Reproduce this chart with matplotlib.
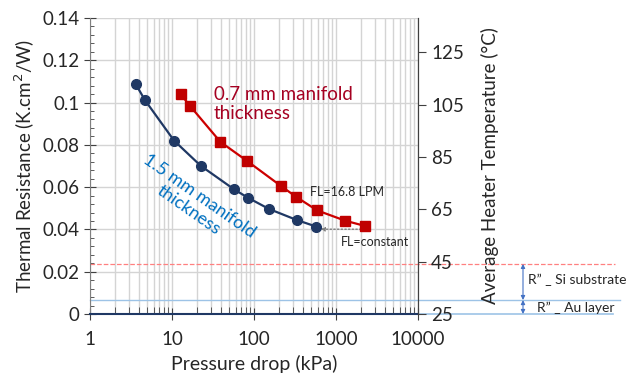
import matplotlib
matplotlib.use("Agg")
import matplotlib.pyplot as plt
from matplotlib.ticker import LogLocator, MultipleLocator, FixedLocator, NullFormatter, FuncFormatter

plt.rcParams['font.family'] = ['Lato', 'DejaVu Sans']

# Data
p_15 = [3.6, 4.67, 10.6, 22.4, 56.9, 84.3, 152, 330, 578]
r_15 = [0.1088, 0.1012, 0.0820, 0.0701, 0.0590, 0.0550, 0.0497, 0.0445, 0.0413]
p_07 = [12.8, 16.6, 38.9, 82.9, 214, 324, 589, 1301, 2279]
r_07 = [0.1039, 0.0984, 0.0814, 0.0723, 0.0605, 0.0555, 0.0490, 0.0441, 0.0416]
r_si = 0.0237
r_au = 0.0066
fl_line_x = [646, 2478]
fl_line_y = 0.0401
temp_ticks = [25, 45, 65, 85, 105, 125]
temp_lim = (25, 138.1)

navy = '#1f3864'
red = '#cc0000'
darkred = '#a50021'
blue_txt = '#0070c0'
lineblue = '#9dc3e6'
arrowblue = '#4472c4'
grid_c = '#d4d4d4'
txt = '#262626'

fig = plt.figure(figsize=(6.3, 3.8), dpi=100)
ax = fig.add_axes([90/630, 1-314/380, 328/630, 296/380])

ax.set_xscale('log')
ax.set_xlim(1, 10000)
ax.set_ylim(0, 0.14)

ax.xaxis.set_major_locator(LogLocator(base=10, numticks=10))
ax.xaxis.set_minor_locator(LogLocator(base=10, subs=range(2, 10), numticks=20))
ax.xaxis.set_minor_formatter(NullFormatter())
ax.xaxis.set_major_formatter(FuncFormatter(lambda v, p: f"{int(round(v))}"))
ax.yaxis.set_major_locator(MultipleLocator(0.02))
ax.yaxis.set_minor_locator(MultipleLocator(0.004))
ax.yaxis.set_major_formatter(FuncFormatter(lambda v, p: f"{v:.2f}".rstrip('0').rstrip('.') if v else "0"))

ax.grid(True, which='both', axis='x', color=grid_c, lw=1.0)
ax.grid(True, which='major', axis='y', color=grid_c, lw=1.0)
ax.set_axisbelow(True)

ax.spines['top'].set_visible(False)
ax.spines['left'].set_color('#808080')
ax.spines['right'].set_color('#404040')
ax.spines['bottom'].set_color(navy)
ax.spines['bottom'].set_linewidth(1.5)

ax.tick_params(axis='x', which='major', direction='inout', length=8, color='#404040', labelsize=13.5, pad=8, labelcolor=txt)
ax.tick_params(axis='x', which='minor', direction='in', length=5, color='#404040')
ax.tick_params(axis='y', which='major', direction='inout', length=8, color='#404040', labelsize=13.5, labelcolor=txt)
ax.tick_params(axis='y', which='minor', direction='in', length=3, color='#404040')

# Series
ax.plot(p_15, r_15, '-o', color=navy, lw=1.6, markersize=7, zorder=4)
ax.plot(p_07, r_07, '-s', color=red, mfc='#c00000', mec='#c00000', lw=1.6, markersize=7, zorder=4)

# FL constant dotted arrow
ax.annotate('', xy=(fl_line_x[0], fl_line_y), xytext=(fl_line_x[1], fl_line_y),
            arrowprops=dict(arrowstyle='-|>', linestyle=':', color='#808080', lw=1.0,
                            mutation_scale=6, shrinkA=0, shrinkB=0), zorder=3)

# Reference lines extending past the axes
ax.axhline(r_si, xmin=0, xmax=1.60, color='#ff8080', ls='--', lw=0.9, clip_on=False, zorder=2)
ax.axhline(r_au, xmin=0, xmax=1.616, color=lineblue, ls='-', lw=1.0, clip_on=False, zorder=2)
ax.axhline(0, xmin=1.0, xmax=1.595, color=lineblue, ls='-', lw=1.2, clip_on=False, zorder=2)

ax_x = (523-90)/328
ax.annotate('', xy=(ax_x, r_si), xytext=(ax_x, r_au), xycoords=('axes fraction', 'data'),
            textcoords=('axes fraction', 'data'),
            arrowprops=dict(arrowstyle='<|-|>', color=arrowblue, lw=0.8, mutation_scale=6,
                            shrinkA=0, shrinkB=0), annotation_clip=False)
ax.annotate('', xy=(ax_x, r_au), xytext=(ax_x, 0), xycoords=('axes fraction', 'data'),
            textcoords=('axes fraction', 'data'),
            arrowprops=dict(arrowstyle='<|-|>', color=arrowblue, lw=0.8, mutation_scale=6,
                            shrinkA=0, shrinkB=0), annotation_clip=False)
ax.text((528-90)/328, 0.0161, 'R\u201d _ Si substrate', transform=ax.get_yaxis_transform(),
        fontsize=10, color=txt, va='center', ha='left')
ax.text((537-90)/328, 0.0030, 'R\u201d _ Au layer', transform=ax.get_yaxis_transform(),
        fontsize=10, color=txt, va='center', ha='left')

# Text annotations
ax.text(32.2, 0.0993, '0.7 mm manifold\nthickness', color=darkred, fontsize=13.5,
        ha='left', va='center', linespacing=1.1)
ax.text(18.5, 0.0525, '1.5 mm manifold\nthickness', color=blue_txt, fontsize=13,
        ha='center', va='center', rotation=-35, rotation_mode='anchor', linespacing=1.1)
ax.text(488, 0.0577, 'FL=16.8 LPM', fontsize=9, color=txt, ha='left', va='center')
ax.text(1131, 0.0341, 'FL=constant', fontsize=9, color=txt, ha='left', va='center')

ax.set_xlabel('Pressure drop (kPa)', fontsize=14, color=txt, labelpad=5)
ax.set_ylabel('Thermal Resistance (K.cm$^2$/W)', fontsize=13.5, color=txt, labelpad=4)

# Right axis
ax2 = ax.twinx()
ax2.set_ylim(*temp_lim)
ax2.yaxis.set_major_locator(FixedLocator(temp_ticks))
ax2.tick_params(axis='y', direction='out', length=6, color='#404040', labelsize=13.5, labelcolor=txt)
for s in ['top', 'left', 'bottom']:
    ax2.spines[s].set_visible(False)
ax2.spines['right'].set_color('#404040')
ax2.set_ylabel('Average Heater Temperature (\u00b0C)', fontsize=13.5, color=txt, labelpad=12)

fig.savefig('out.png', dpi=100)
